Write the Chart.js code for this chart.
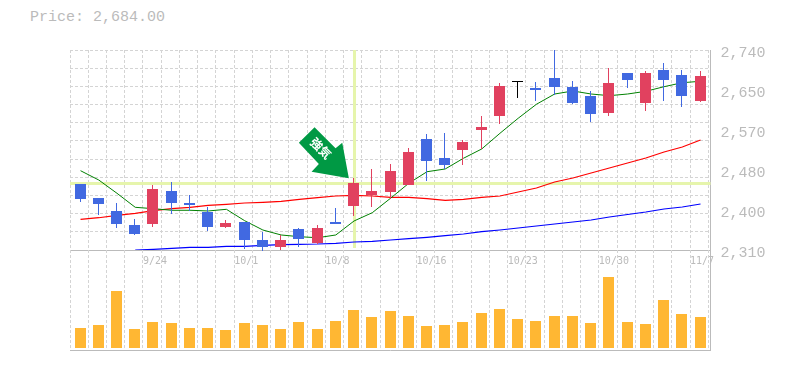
<!DOCTYPE html>
<html>
<head>
<meta charset="utf-8">
<title>Price chart</title>
<script src="https://cdn.jsdelivr.net/npm/chart.js@4/dist/chart.umd.min.js"></script>
<style>
    html, body { margin: 0; padding: 0; background: #fff; width: 785px; height: 370px; overflow: hidden; }
    canvas { position: absolute; left: 0; }
    #price-canvas { top: 0; }
    #volume-canvas { top: 250px; }
    #price-title { position: absolute; left: 30px; top: 9px; font: 15px/18px "Liberation Mono", monospace; color: #bbb; }
</style>
</head>
<body>
<div id="price-title">Price: 2,684.00</div>
<canvas id="price-canvas" width="785" height="270"></canvas>
<canvas id="volume-canvas" width="785" height="120"></canvas>
<script>
const opens = [2451.9, 2421.8, 2393.85, 2363.75, 2365.9, 2436.85, 2411.05, 2391.7, 2359.45, 2370.2, 2331.5, 2316.45, 2355.15, 2325.05, 2370.2, 2404.6, 2428.25, 2434.7, 2449.75, 2548.65, 2507.8, 2525, 2568, 2598.1, 2671.2, 2658.3, 2679.8, 2660.45, 2641.1, 2604.55, 2690.55, 2626.05, 2697, 2686.25, 2630.35];
const highs = [2451.9, 2421.8, 2411.05, 2376.65, 2449.75, 2456.2, 2428.25, 2402.45, 2374.5, 2370.2, 2348.7, 2342.25, 2357.3, 2363.75, 2400.3, 2464.8, 2484.15, 2494.9, 2529.3, 2559.4, 2561.55, 2546.5, 2598.1, 2669.05, 2671.2, 2671.2, 2740, 2673.35, 2651.85, 2701.3, 2690.55, 2694.85, 2712.05, 2697, 2694.85];
const lows = [2413.2, 2385.25, 2357.3, 2342.25, 2359.45, 2387.4, 2393.85, 2350.85, 2357.3, 2312.15, 2307.85, 2310, 2316.45, 2322.9, 2365.9, 2383.1, 2402.45, 2419.65, 2449.75, 2458.35, 2484.15, 2492.75, 2527.15, 2580.9, 2636.8, 2630.35, 2643.25, 2623.9, 2585.2, 2598.1, 2658.3, 2608.85, 2630.35, 2617.45, 2628.2];
const closes = [2419.65, 2408.9, 2365.9, 2344.4, 2441.15, 2411.05, 2406.75, 2359.45, 2368.05, 2331.5, 2316.45, 2331.5, 2333.65, 2357.3, 2365.9, 2454.05, 2436.85, 2479.85, 2520.7, 2501.35, 2492.75, 2542.2, 2574.45, 2662.6, 2671.2, 2654, 2660.45, 2626.05, 2602.4, 2669.05, 2675.5, 2690.55, 2675.5, 2641.1, 2684.1];
const maShort = [2480.5, 2460.5, 2431.9, 2401.8, 2398.8, 2395.4, 2395.4, 2393.9, 2397.5, 2373, 2353, 2342.3, 2338.6, 2336.4, 2342.3, 2372.4, 2390.2, 2421.2, 2453.4, 2478.3, 2484.2, 2507.2, 2527.2, 2560.9, 2593.2, 2623.3, 2645.4, 2651.9, 2645.4, 2641.8, 2645.4, 2651.2, 2661.1, 2669.7, 2672.7];
const maMid = [2376, 2379.4, 2384.6, 2388.9, 2394.5, 2398.8, 2401.8, 2406.1, 2408.3, 2411, 2412.6, 2414.7, 2419, 2422.4, 2426.1, 2427.6, 2426.1, 2423.3, 2423.3, 2420.3, 2416.9, 2419, 2423.3, 2426.1, 2434.7, 2443.3, 2456.2, 2464.8, 2475.5, 2486.3, 2497.1, 2507.8, 2520.7, 2531.4, 2546.5];
const maLong = [null, null, null, 2310, 2311.5, 2313.7, 2315.8, 2315.8, 2318, 2318, 2320.1, 2321.4, 2322.3, 2322.9, 2324.4, 2327.2, 2328.7, 2331.5, 2334.3, 2337.3, 2340.8, 2344.4, 2349.3, 2353, 2357.3, 2361.6, 2365.9, 2370.2, 2374.5, 2381, 2386.3, 2391.7, 2398.2, 2402.5, 2408.9];
const volumes = [20000, 23000, 57000, 19000, 26000, 25000, 20000, 20000, 18000, 25000, 23000, 19000, 26000, 19000, 27000, 38000, 31000, 37000, 32000, 22000, 23000, 26000, 35000, 39000, 29000, 27000, 32000, 32000, 25000, 71000, 26000, 24000, 48000, 34000, 31000];

const dateLabels = { 4: "9/24", 9: "10/1", 14: "10/8", 19: "10/16", 24: "10/23", 29: "10/30", 34: "11/7" };
const priceTicks = [2740, 2654, 2568, 2482, 2396, 2310];
const priceTickLabels = ["2,740", "2,650", "2,570", "2,480", "2,400", "2,310"];
const signalIndex = 15;
const signalPrice = 2453;
const signalText = "強気";

const UP_COLOR = "#e1415f";
const DOWN_COLOR = "#4169e1";
const GRID_COLOR = "#d4d4d4";
const AXIS_COLOR = "#bbbbbb";
const HIGHLIGHT_COLOR = "#e6f5ac";

// grid line to the left of candle 0, in candle units
const X_MIN = -0.5758;
const X_MAX = 34.547;
const xGridValues = [];
for (let i = 0; i <= 35; i++) xGridValues.push(X_MIN + i);

function candleColor(i) {
    if (closes[i] > opens[i]) return UP_COLOR;
    if (closes[i] < opens[i]) return DOWN_COLOR;
    return "#000000";
}

const candleColors = opens.map((o, i) => candleColor(i));
const bodies = opens.map((o, i) => ({ x: i, y: [o, closes[i]] }));
const wicks = opens.map((o, i) => ({ x: i, y: [lows[i], highs[i]] }));

function lineSeries(values, color, width) {
    return {
        type: "line",
        data: values.map((v, i) => ({ x: i, y: v })),
        borderColor: color,
        borderWidth: width,
        pointRadius: 0,
        tension: 0,
        order: 2,
        yAxisID: "y"
    };
}

// the original has every bar on whole pixels
const snapBars = {
    id: "snapBars",
    afterDatasetsUpdate(chart) {
        chart.data.datasets.forEach((ds, n) => {
            if (ds.type === "line") return;
            chart.getDatasetMeta(n).data.forEach(bar => {
                bar.x = Math.floor(bar.x - 5.5) + 5.5;
                bar.y = Math.round(bar.y);
                bar.base = Math.round(bar.base);
            });
        });
    }
};

const highlight = {
    id: "highlight",
    beforeDatasetsDraw(chart) {
        let ctx = chart.ctx;
        let area = chart.chartArea;
        let x = Math.floor(chart.scales.x.getPixelForValue(signalIndex));
        let y = Math.floor(chart.scales.y.getPixelForValue(signalPrice));
        ctx.save();
        ctx.fillStyle = HIGHLIGHT_COLOR;
        ctx.fillRect(area.left, y - 1, area.right - area.left, 3);
        ctx.fillRect(x - 1, area.top, 3, area.bottom - area.top - 2);
        ctx.restore();
    }
};

const signalArrow = {
    id: "signalArrow",
    afterDatasetsDraw(chart) {
        let ctx = chart.ctx;
        let tipX = chart.scales.x.getPixelForValue(signalIndex) - 5.2;
        let tipY = chart.scales.y.getPixelForValue(signalPrice) - 5.2;
        let outline = [[0, 0], [-6.6, -35.6], [-13.3, -30], [-34.3, -51], [-50, -35.6], [-30, -14.3], [-37.3, -6.6]];
        ctx.save();
        ctx.fillStyle = "#009944";
        ctx.beginPath();
        outline.forEach(p => ctx.lineTo(tipX + p[0], tipY + p[1]));
        ctx.closePath();
        ctx.fill();
        ctx.translate(tipX - 28, tipY - 30);
        ctx.rotate(Math.PI / 4);
        ctx.fillStyle = "#ffffff";
        ctx.font = 'bold 12px "Noto Sans CJK JP"';
        ctx.textAlign = "center";
        ctx.textBaseline = "middle";
        ctx.fillText(signalText, 0, 0);
        ctx.restore();
    }
};

function xAxis(showLabels) {
    return {
        type: "linear",
        min: X_MIN,
        max: X_MAX,
        offset: false,
        afterBuildTicks: scale => { scale.ticks = xGridValues.map(v => ({ value: v })); },
        afterFit: scale => { scale.height = 20; },
        grid: { color: GRID_COLOR, drawTicks: false, offset: false },
        border: { display: true, color: AXIS_COLOR, width: 1, dash: [3, 2] },
        ticks: {
            display: showLabels,
            autoSkip: false,
            maxRotation: 0,
            align: "start",
            padding: 5,
            color: AXIS_COLOR,
            font: { family: "DejaVu Sans Mono", size: 10 },
            callback: value => dateLabels[Math.round(value - X_MIN)] || ""
        }
    };
}

const sharedOptions = {
    responsive: false,
    animation: false,
    events: []
};

new Chart(document.getElementById("price-canvas"), {
    type: "bar",
    data: {
        datasets: [
            { data: bodies, backgroundColor: candleColors, barThickness: 11, minBarLength: 1, grouped: false, inflateAmount: 0, order: 0, yAxisID: "y", clip: false },
            { data: wicks, backgroundColor: candleColors, barThickness: 1, grouped: false, inflateAmount: 0, order: 1, yAxisID: "y", clip: false },
            lineSeries(maShort, "#008000", 1),
            lineSeries(maMid, "#ff0000", 1.2),
            lineSeries(maLong, "#0000ff", 1.2)
        ]
    },
    options: {
        ...sharedOptions,
        layout: { padding: { left: 70.03, top: 50, right: 0, bottom: 0 } },
        plugins: { legend: { display: false }, tooltip: { enabled: false } },
        scales: {
            x: xAxis(true),
            y: {
                position: "right",
                min: 2310,
                max: 2740,
                afterBuildTicks: scale => { scale.ticks = priceTicks.map(v => ({ value: v })); },
                afterFit: scale => { scale.width = 74.5; },
                grid: { display: false, drawTicks: false },
                border: { display: true, color: AXIS_COLOR, width: 1 },
                ticks: {
                    padding: 10,
                    labelOffset: 3.5,
                    color: AXIS_COLOR,
                    font: { family: "Liberation Mono", size: 15 },
                    callback: (value, index) => priceTickLabels[index]
                }
            },
            yGrid: {
                position: "right",
                min: 2310,
                max: 2740,
                afterBuildTicks: scale => {
                    let rows = [];
                    for (let i = 0; i <= 11; i++) rows.push({ value: 2310 + i * 430 / 11 });
                    scale.ticks = rows;
                },
                afterFit: scale => { scale.width = 0; },
                grid: { color: GRID_COLOR, drawTicks: false },
                border: { display: false, dash: [3, 2] },
                ticks: { display: false }
            }
        }
    },
    plugins: [snapBars, highlight, signalArrow]
});

new Chart(document.getElementById("volume-canvas"), {
    type: "bar",
    data: {
        datasets: [
            { data: volumes.map((v, i) => ({ x: i, y: v })), backgroundColor: "#ffb733", barThickness: 11, inflateAmount: 0 }
        ]
    },
    options: {
        ...sharedOptions,
        layout: { padding: { left: 70.03, top: 0, right: 0, bottom: 0 } },
        plugins: { legend: { display: false }, tooltip: { enabled: false } },
        scales: {
            x: xAxis(false),
            y: {
                position: "right",
                min: -2000,
                max: 98000,
                afterFit: scale => { scale.width = 74.5; },
                grid: { display: false, drawTicks: false },
                border: { display: true, color: AXIS_COLOR, width: 1 },
                ticks: { display: false }
            }
        }
    },
    plugins: [snapBars]
});
</script>
</body>
</html>
